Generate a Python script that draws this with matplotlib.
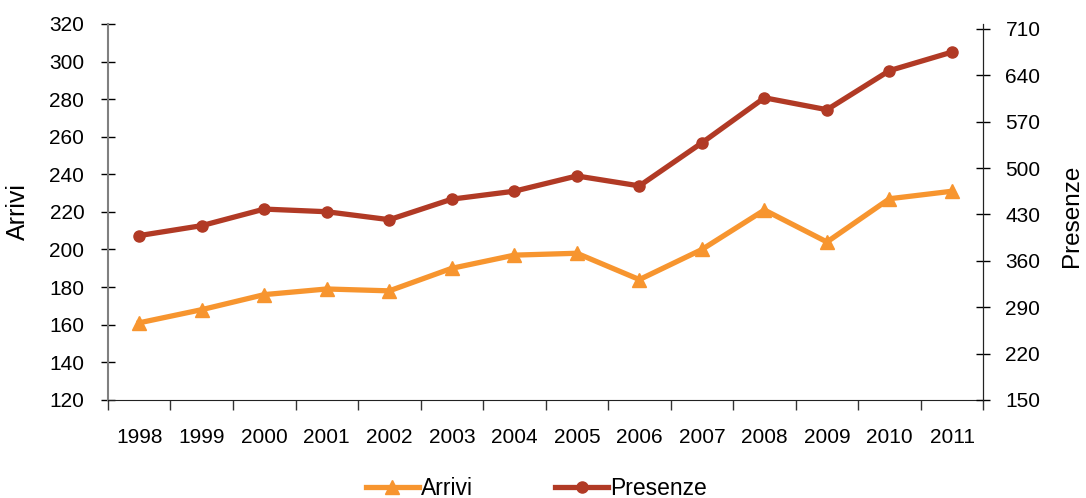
import numpy as np
import matplotlib.pyplot as plt

plt.rcParams['font.family'] = ['Liberation Sans', 'DejaVu Sans']

years = ['1998', '1999', '2000', '2001', '2002', '2003', '2004',
         '2005', '2006', '2007', '2008', '2009', '2010', '2011']
arrivi = [161, 168, 176, 179, 178, 190, 197, 198, 184, 200, 221, 204, 227, 231]
presenze = [398, 413, 438, 434, 422, 453, 465, 488, 473, 538, 606, 588, 647, 675]

orange = '#F7952F'
red = '#B13A25'

fig = plt.figure(figsize=(10.86, 4.98), dpi=100)
ax = fig.add_axes([0.0994, 0.197, 0.806, 0.755])
ax2 = ax.twinx()

x = np.arange(len(years))
l1, = ax.plot(x, arrivi, color=orange, lw=3.8, marker='^', ms=10, label='Arrivi')
l2, = ax2.plot(x, presenze, color=red, lw=3.8, marker='o', ms=8, label='Presenze')

ax.set_xlim(-0.5, len(years) - 0.5)
ax.set_ylim(120, 320)
ax.set_yticks(np.arange(120, 321, 20))
# right scale tops out a few pixels below the left one in the original
ax2.set_ylim(150, 717.5)
ax2.set_yticks(np.arange(150, 711, 70))

ax.set_xticks(x)
ax.set_xticklabels(years, fontsize=15)
ax.set_xticks(np.arange(-0.5, len(years), 1), minor=True)
ax.tick_params(axis='x', which='major', length=0, pad=20)
ax.tick_params(axis='x', which='minor', direction='out', length=7, width=1, color='#333333')
ax.tick_params(axis='y', direction='inout', length=10, width=1, labelsize=15, pad=12)
ax2.tick_params(axis='y', direction='inout', length=10, width=1, labelsize=15, pad=11)

for a in (ax, ax2):
    a.spines['top'].set_visible(False)
ax.spines['left'].set_color('#808080')
ax.spines['left'].set_linewidth(1.5)
ax.spines['bottom'].set_color('#222222')
ax2.spines['left'].set_visible(False)
ax2.spines['bottom'].set_visible(False)
ax2.spines['right'].set_color('#222222')

ax.set_ylabel('Arrivi', fontsize=18)
ax2.set_ylabel('Presenze', fontsize=17.5)
ax.yaxis.set_label_coords(-0.089, 0.5)
ax2.yaxis.set_label_coords(1.0885, 0.49)

fig.legend([l1, l2], ['Arrivi', 'Presenze'], loc='lower center',
           bbox_to_anchor=(0.494, -0.045), ncol=2, frameon=False,
           fontsize=16.5, handlelength=2.3, handletextpad=0.1, columnspacing=3.6)

fig.savefig('out.png', dpi=100)
